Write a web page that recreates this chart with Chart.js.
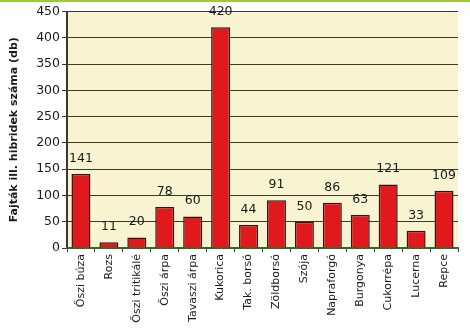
<!DOCTYPE html>
<html lang="hu">
<head>
<meta charset="UTF-8">
<title>Fajták ill. hibridek száma</title>
<script src="https://cdn.jsdelivr.net/npm/chart.js"></script>
<style>
  html, body { margin: 0; padding: 0; background: #fff; }
  .wrap {
    width: 470px; height: 326px;
    border-top: 2px solid #9cc83c;
    position: relative;
  }
  canvas { display: block; }
</style>
</head>
<body>
<div class="wrap"><canvas id="c" width="470" height="326"></canvas></div>
<script>
// adatok
const categories = ['Őszi búza', 'Rozs', 'Őszi tritikálé', 'Őszi árpa', 'Tavaszi árpa', 'Kukorica',
  'Tak. borsó', 'Zöldborsó', 'Szója', 'Napraforgó', 'Burgonya', 'Cukorrépa', 'Lucerna', 'Repce'];
const counts = [141, 11, 20, 78, 60, 420, 44, 91, 50, 86, 63, 121, 33, 109];
const yTicks = [0, 50, 100, 150, 200, 250, 300, 350, 400, 450];

// plot hatter
const plotBg = {
  id: 'plotBg',
  beforeDraw(chart) {
    const { ctx, chartArea: a } = chart;
    ctx.save();
    ctx.fillStyle = '#f8f4d2';
    ctx.fillRect(a.left, a.top, a.right - a.left, a.bottom - a.top);
    ctx.restore();
  }
};

// ertekek az oszlopok folott
const valueLabels = {
  id: 'valueLabels',
  afterDatasetsDraw(chart) {
    const { ctx } = chart;
    const meta = chart.getDatasetMeta(0);
    ctx.save();
    ctx.font = '12.5px "DejaVu Sans", sans-serif';
    ctx.fillStyle = '#1a1a1a';
    ctx.textAlign = 'center';
    ctx.textBaseline = 'bottom';
    meta.data.forEach((bar, i) => {
      ctx.fillText(counts[i], bar.x, bar.y - 9);
    });
    ctx.restore();
  }
};

new Chart(document.getElementById('c'), {
  type: 'bar',
  data: {
    labels: categories,
    datasets: [{
      data: counts,
      backgroundColor: '#e0191c',
      borderColor: '#3c1010',
      borderWidth: 1.5,
      categoryPercentage: 1.0,
      barPercentage: 0.68
    }]
  },
  options: {
    responsive: false,
    animation: false,
    layout: { padding: { top: 5, right: 12, left: 0, bottom: 0 } },
    plugins: {
      legend: { display: false },
      tooltip: { enabled: false }
    },
    scales: {
      y: {
        min: 0, max: 450,
        afterBuildTicks(axis) { axis.ticks = yTicks.map(v => ({ value: v })); },
        afterFit(axis) { axis.width = 67; },
        grid: { color: '#3a3a2a', lineWidth: 1, tickLength: 5, tickColor: '#3a3a2a' },
        border: { color: '#3a3a2a', width: 2 },
        ticks: {
          color: '#1a1a1a',
          font: { family: 'DejaVu Sans', size: 12.5 },
          padding: 2
        },
        title: {
          display: true,
          text: 'Fajták ill. hibridek száma (db)',
          color: '#1a1a1a',
          font: { family: 'DejaVu Sans', size: 11, weight: 'bold' },
          padding: { top: 8, bottom: 4 }
        }
      },
      x: {
        afterFit(axis) { axis.height = 80; },
        grid: { offset: true, drawOnChartArea: false, tickLength: 4, color: '#3a3a2a' },
        border: { color: '#2e6b2e', width: 2 },
        ticks: {
          color: '#1a1a1a',
          font: { family: 'DejaVu Sans', size: 11 },
          maxRotation: 90, minRotation: 90,
          autoSkip: false,
          padding: 2
        }
      }
    }
  },
  plugins: [plotBg, valueLabels]
});
</script>
</body>
</html>
